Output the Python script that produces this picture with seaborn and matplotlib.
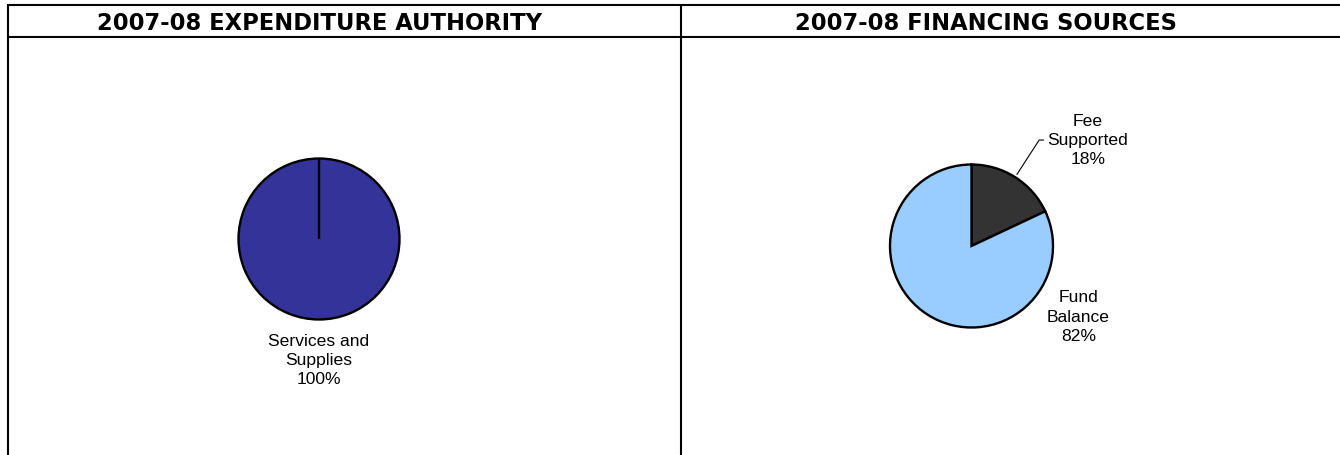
import numpy as np
import matplotlib
matplotlib.use("Agg")
import matplotlib.pyplot as plt
import seaborn as sns

# chart data
left_title = "2007-08 EXPENDITURE AUTHORITY"
left_labels = ["Services and\nSupplies"]
left_values = [100]
left_colors = ["#333399"]

right_title = "2007-08 FINANCING SOURCES"
right_labels = ["Fee\nSupported", "Fund\nBalance"]
right_values = [18, 82]
right_colors = ["#333333", "#99CCFF"]

sns.set_theme(style="white")
plt.rcParams["font.family"] = ["Liberation Sans", "DejaVu Sans"]

W, H = 1340, 456
fig = plt.figure(figsize=(W / 100, H / 100), dpi=100)

# frame + header lines drawn in pixel space
bg = fig.add_axes([0, 0, 1, 1])
bg.set_xlim(0, W)
bg.set_ylim(H, 0)
bg.axis("off")
lw = 1.5
bg.plot([7, W], [6, 6], color="black", lw=lw, solid_capstyle="butt")
bg.plot([7, W], [38, 38], color="black", lw=lw, solid_capstyle="butt")
bg.plot([8, 8], [5, H], color="black", lw=lw, solid_capstyle="butt")
bg.plot([681, 681], [5, H], color="black", lw=lw, solid_capstyle="butt")

title_kw = dict(ha="center", va="center", fontsize=16.3, fontweight="bold",
                family="DejaVu Sans", color="black")
bg.text(319.5, 23, left_title, **title_kw)
bg.text(986, 23, right_title, **title_kw)

edge_lw = 1.7


def pie_axes(cx, cy, r, half=150):
    ax = fig.add_axes([(cx - half) / W, (H - cy - half) / H, 2 * half / W, 2 * half / H])
    ax.axis("off")
    return ax, half / r


def draw_pie(ax, lim, values, colors):
    wedges, _ = ax.pie(values, colors=colors, startangle=90, counterclock=False,
                       wedgeprops=dict(edgecolor="black", linewidth=edge_lw))
    ax.set_xlim(-lim, lim)
    ax.set_ylim(-lim, lim)
    ax.set_aspect("equal")
    # a full 360 slice is drawn as a plain circle; add its start radius
    for w in wedges:
        if abs(w.theta2 - w.theta1) >= 359.9:
            a = np.deg2rad(w.theta1)
            ax.plot([0, np.cos(a)], [0, np.sin(a)], color="black", lw=edge_lw,
                    solid_capstyle="butt")
    return wedges


def pct_labels(labels, values):
    total = sum(values)
    return [f"{lab}\n{v / total * 100:.0f}%" for lab, v in zip(labels, values)]


label_kw = dict(ha="center", va="center", fontsize=12.6, linespacing=1.35, color="black")

# left pie
axl, liml = pie_axes(319, 240, 80.5)
draw_pie(axl, liml, left_values, left_colors)
axl.text(0, -1.50, pct_labels(left_labels, left_values)[0], **label_kw)

# right pie
axr, limr = pie_axes(971.5, 247, 81.5)
wr = draw_pie(axr, limr, right_values, right_colors)
rtexts = pct_labels(right_labels, right_values)
axr.text(1.43, 1.31, rtexts[0], **label_kw)
axr.text(1.31, -0.86, rtexts[1], **label_kw)

# leader line for the small slice
mid = np.deg2rad((wr[0].theta1 + wr[0].theta2) / 2)
x0, y0 = 1.04 * np.cos(mid), 1.04 * np.sin(mid)
axr.plot([x0, 0.83, 0.885], [y0, 1.30, 1.30], color="black", lw=0.8)

fig.savefig("out.png", dpi=100)
